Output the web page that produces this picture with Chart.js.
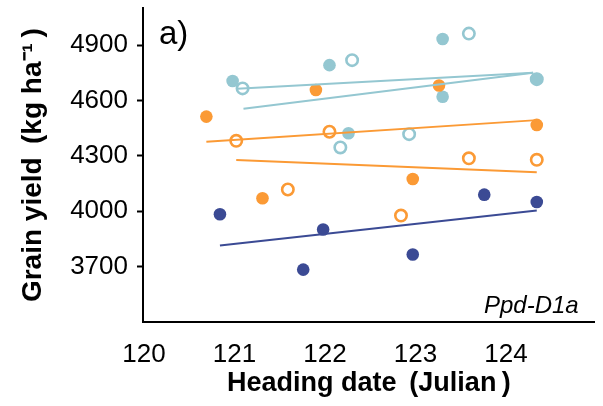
<!DOCTYPE html>
<html lang="en">
  <head>
    <meta charset="UTF-8" />
    <title>Grain yield vs heading date</title>
    <script src="https://cdn.jsdelivr.net/npm/chart.js"></script>
    <style>
      body { margin: 0; background: #fff; }
      canvas { display: block; }
    </style>
  </head>
  <body>
    <canvas id="yieldChart" width="603" height="406"></canvas>

    <script>
      // axis ticks
      const xTicks = [120, 121, 122, 123, 124];
      const yTicks = [3700, 4000, 4300, 4600, 4900];

      // dark blue (filled only)
      const darkX = [120.84, 121.76, 121.98, 122.97, 123.76, 124.34];
      const darkY = [3984, 3684, 3901, 3766, 4090, 4050];

      // orange filled / open
      const orangeX = [120.69, 121.31, 121.9, 122.97, 123.26, 124.34];
      const orangeY = [4513, 4071, 4657, 4175, 4682, 4468];
      const orangeOpenX = [121.02, 121.59, 122.05, 122.84, 123.59, 124.34];
      const orangeOpenY = [4382, 4118, 4431, 3977, 4287, 4279];

      // light blue filled / open
      const lightX = [120.98, 122.05, 122.26, 123.3, 123.3, 124.34];
      const lightY = [4706, 4792, 4423, 4934, 4621, 4716];
      const lightOpenX = [121.09, 122.17, 122.3, 122.93, 123.59, 124.34];
      const lightOpenY = [4666, 4346, 4819, 4418, 4963, 4716];

      // fitted lines (end points)
      const darkFitX = [120.84, 124.34];
      const darkFitY = [3814, 4004];
      const orangeFitX = [120.69, 124.34];
      const orangeFitY = [4377, 4494];
      const orangeOpenFitX = [121.02, 124.34];
      const orangeOpenFitY = [4278, 4211];
      const lightFitX = [121.03, 124.3];
      const lightFitY = [4664, 4751];
      const lightOpenFitX = [121.1, 124.3];
      const lightOpenFitY = [4556, 4751];

      const DARK = "#3b4a94";
      const ORANGE = "#fb9a35";
      const LIGHT = "#94c7d1";
      const FONT = "'Liberation Sans', Arial, sans-serif";

      const pts = (xs, ys) => xs.map((x, i) => ({ x: x, y: ys[i] }));

      const filled = (data, color) => ({
        data: data,
        backgroundColor: color,
        borderWidth: 0,
        pointRadius: 6.3,
        pointHoverRadius: 6.3,
      });
      const open = (data, color) => ({
        data: data,
        backgroundColor: "rgba(0,0,0,0)",
        borderColor: color,
        borderWidth: 2.6,
        pointRadius: 5.7,
        pointHoverRadius: 5.7,
      });
      const fit = (data, color) => ({
        data: data,
        showLine: true,
        borderColor: color,
        borderWidth: 2,
        pointRadius: 0,
        pointHoverRadius: 0,
      });

      // "a)" and "Ppd-D1a" labels
      const panelText = {
        id: "panelText",
        afterDraw(chart) {
          const { ctx, chartArea } = chart;
          ctx.save();
          ctx.fillStyle = "#000";
          ctx.textBaseline = "alphabetic";
          ctx.textAlign = "left";
          ctx.font = "33px " + FONT;
          ctx.fillText("a)", chartArea.left + 16, chartArea.top + 36);
          ctx.textAlign = "right";
          ctx.font = "italic 24px " + FONT;
          ctx.fillText("Ppd-D1a", chartArea.right - 16, chartArea.bottom - 9);
          ctx.restore();
        },
      };

      new Chart(document.getElementById("yieldChart"), {
        type: "scatter",
        data: {
          datasets: [
            fit(pts(darkFitX, darkFitY), DARK),
            fit(pts(orangeFitX, orangeFitY), ORANGE),
            fit(pts(orangeOpenFitX, orangeOpenFitY), ORANGE),
            fit(pts(lightFitX, lightFitY), LIGHT),
            fit(pts(lightOpenFitX, lightOpenFitY), LIGHT),
            filled(pts(darkX, darkY), DARK),
            filled(pts(orangeX, orangeY), ORANGE),
            open(pts(orangeOpenX, orangeOpenY), ORANGE),
            filled(pts(lightX, lightY), LIGHT),
            open(pts(lightOpenX, lightOpenY), LIGHT),
          ],
        },
        options: {
          responsive: false,
          animation: false,
          devicePixelRatio: 1,
          layout: { padding: { top: 8, right: 0, left: 0, bottom: 0 } },
          plugins: { legend: { display: false }, tooltip: { enabled: false } },
          scales: {
            x: {
              type: "linear",
              min: 119.99,
              max: 124.98,
              afterBuildTicks: (s) => { s.ticks = xTicks.map((v) => ({ value: v })); },
              afterFit: (s) => {
                s.height = 84;
                s.paddingLeft = 0;
                s.paddingRight = 0;
              },
              grid: { display: false },
              border: { display: true, color: "#000", width: 2 },
              ticks: {
                color: "#000",
                padding: 9,
                maxRotation: 0,
                callback: (v) => String(v),
                font: { family: FONT, size: 26 },
              },
              title: {
                display: true,
                text: "Heading date\u2009 (Julian\u2009)",
                color: "#000",
                padding: { top: 0, bottom: 6 },
                font: { family: FONT, size: 27, weight: "bold" },
              },
            },
            y: {
              type: "linear",
              min: 3400,
              max: 5100,
              afterBuildTicks: (s) => { s.ticks = yTicks.map((v) => ({ value: v })); },
              afterFit: (s) => {
                s.width = 143;
                s.paddingTop = 0;
                s.paddingBottom = 0;
              },
              grid: {
                drawOnChartArea: false,
                drawTicks: true,
                tickLength: 6,
                tickWidth: 2,
                tickColor: "#000",
              },
              border: { display: true, color: "#000", width: 2 },
              ticks: {
                color: "#000",
                padding: 9,
                callback: (v) => String(v),
                font: { family: FONT, size: 26 },
              },
              title: {
                display: true,
                text: "Grain yield\u2009 (kg ha\u207B\u00B9\u2009)",
                color: "#000",
                padding: { top: 16, bottom: 0 },
                font: { family: FONT, size: 28, weight: "bold" },
              },
            },
          },
        },
        plugins: [panelText],
      });
    </script>
  </body>
</html>
